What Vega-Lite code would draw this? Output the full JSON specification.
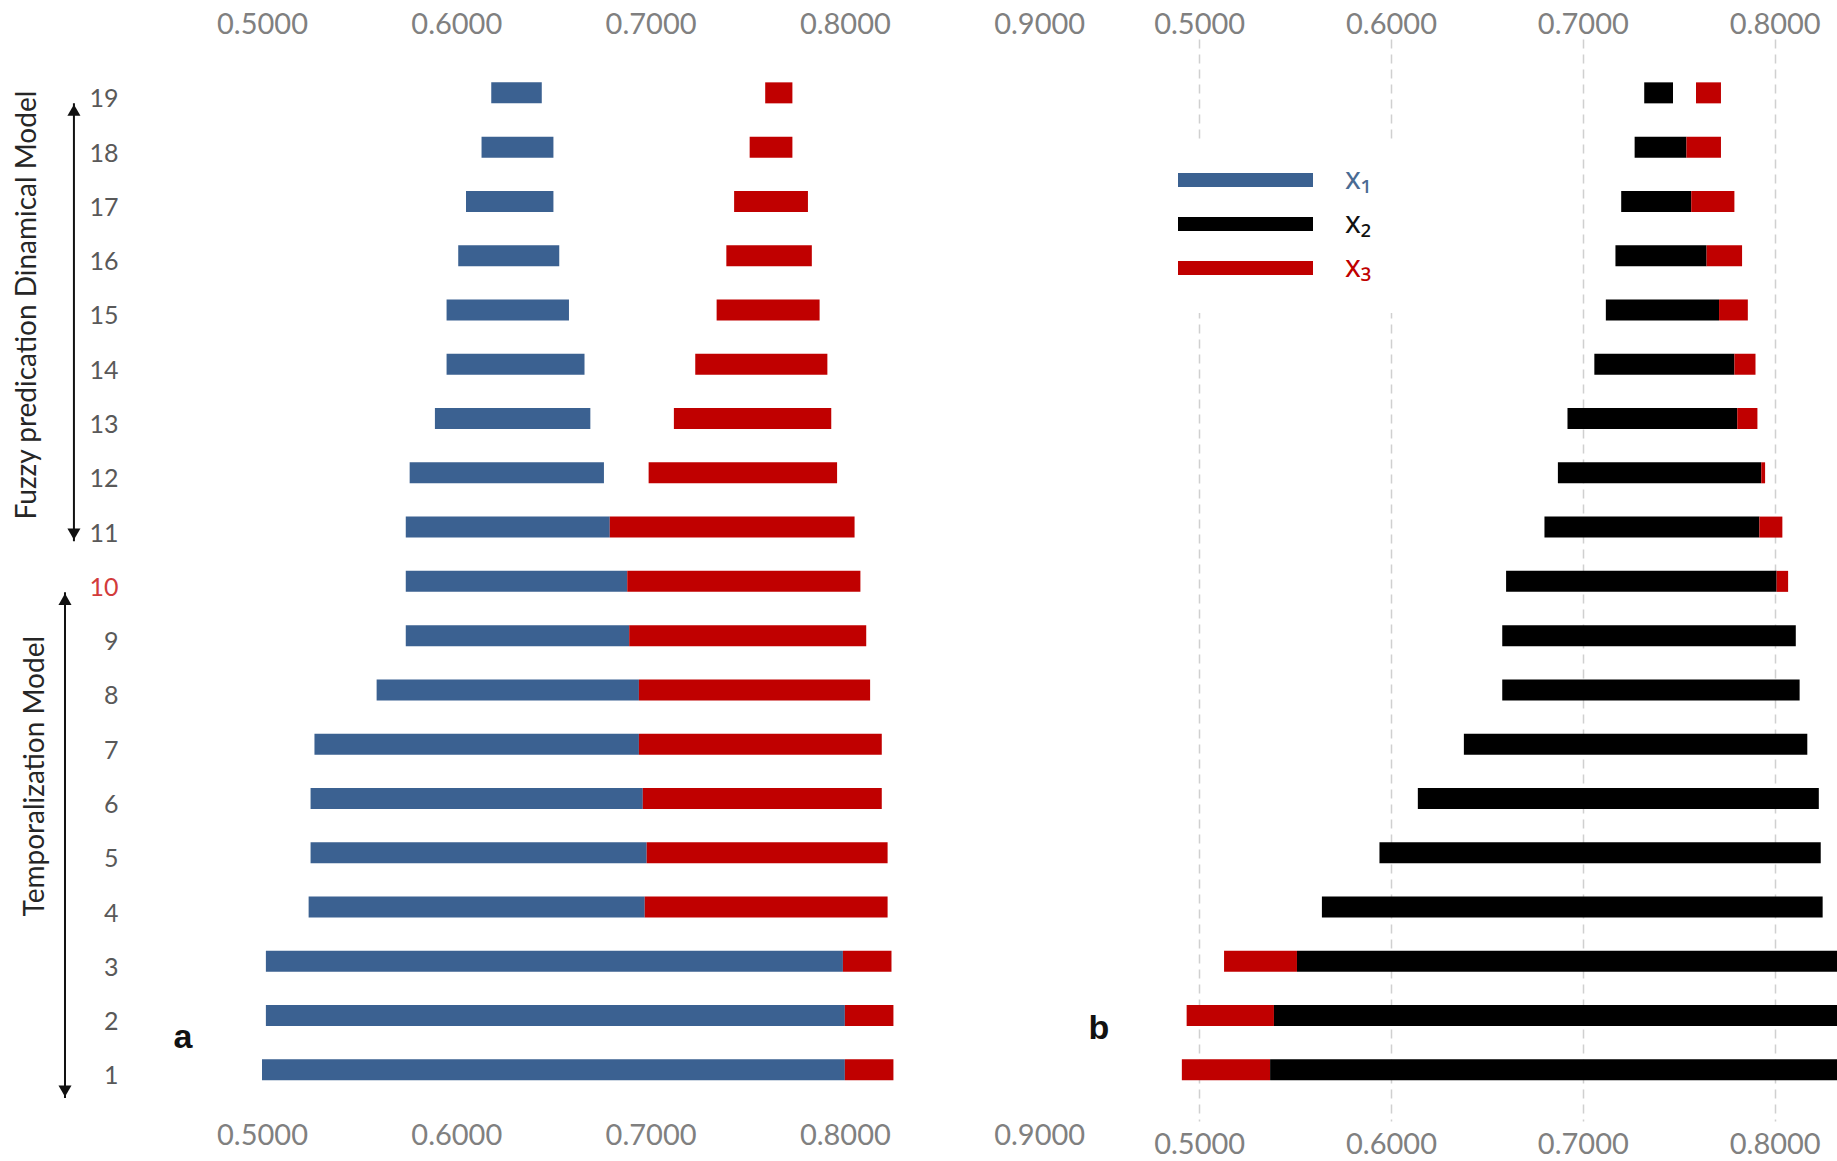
{
  "$schema": "https://vega.github.io/schema/vega-lite/v6.json",
  "background": "white",
  "padding": {"left": 14, "top": 10, "right": 0, "bottom": 0},
  "spacing": 6,
  "bounds": "flush",
  "config": {"view": {"stroke": null}},
  "datasets": {
    "panelA": [
      {"row": 1, "series": "x₁", "start": 0.500, "end": 0.800}, {"row": 1, "series": "x₃", "start": 0.800, "end": 0.825},
      {"row": 2, "series": "x₁", "start": 0.502, "end": 0.800}, {"row": 2, "series": "x₃", "start": 0.800, "end": 0.825},
      {"row": 3, "series": "x₁", "start": 0.502, "end": 0.799}, {"row": 3, "series": "x₃", "start": 0.799, "end": 0.824},
      {"row": 4, "series": "x₁", "start": 0.524, "end": 0.697}, {"row": 4, "series": "x₃", "start": 0.697, "end": 0.822},
      {"row": 5, "series": "x₁", "start": 0.525, "end": 0.698}, {"row": 5, "series": "x₃", "start": 0.698, "end": 0.822},
      {"row": 6, "series": "x₁", "start": 0.525, "end": 0.696}, {"row": 6, "series": "x₃", "start": 0.696, "end": 0.819},
      {"row": 7, "series": "x₁", "start": 0.527, "end": 0.694}, {"row": 7, "series": "x₃", "start": 0.694, "end": 0.819},
      {"row": 8, "series": "x₁", "start": 0.559, "end": 0.694}, {"row": 8, "series": "x₃", "start": 0.694, "end": 0.813},
      {"row": 9, "series": "x₁", "start": 0.574, "end": 0.689}, {"row": 9, "series": "x₃", "start": 0.689, "end": 0.811},
      {"row": 10, "series": "x₁", "start": 0.574, "end": 0.688}, {"row": 10, "series": "x₃", "start": 0.688, "end": 0.808},
      {"row": 11, "series": "x₁", "start": 0.574, "end": 0.679}, {"row": 11, "series": "x₃", "start": 0.679, "end": 0.805},
      {"row": 12, "series": "x₁", "start": 0.576, "end": 0.676}, {"row": 12, "series": "x₃", "start": 0.699, "end": 0.796},
      {"row": 13, "series": "x₁", "start": 0.589, "end": 0.669}, {"row": 13, "series": "x₃", "start": 0.712, "end": 0.793},
      {"row": 14, "series": "x₁", "start": 0.595, "end": 0.666}, {"row": 14, "series": "x₃", "start": 0.723, "end": 0.791},
      {"row": 15, "series": "x₁", "start": 0.595, "end": 0.658}, {"row": 15, "series": "x₃", "start": 0.734, "end": 0.787},
      {"row": 16, "series": "x₁", "start": 0.601, "end": 0.653}, {"row": 16, "series": "x₃", "start": 0.739, "end": 0.783},
      {"row": 17, "series": "x₁", "start": 0.605, "end": 0.650}, {"row": 17, "series": "x₃", "start": 0.743, "end": 0.781},
      {"row": 18, "series": "x₁", "start": 0.613, "end": 0.650}, {"row": 18, "series": "x₃", "start": 0.751, "end": 0.773},
      {"row": 19, "series": "x₁", "start": 0.618, "end": 0.644}, {"row": 19, "series": "x₃", "start": 0.759, "end": 0.773}
    ],
    "panelB": [
      {"row": 1, "series": "x₃", "start": 0.491, "end": 0.537}, {"row": 1, "series": "x₂", "start": 0.537, "end": 0.860},
      {"row": 2, "series": "x₃", "start": 0.4935, "end": 0.539}, {"row": 2, "series": "x₂", "start": 0.539, "end": 0.860},
      {"row": 3, "series": "x₃", "start": 0.513, "end": 0.551}, {"row": 3, "series": "x₂", "start": 0.551, "end": 0.860},
      {"row": 4, "series": "x₂", "start": 0.564, "end": 0.825},
      {"row": 5, "series": "x₂", "start": 0.594, "end": 0.824},
      {"row": 6, "series": "x₂", "start": 0.614, "end": 0.823},
      {"row": 7, "series": "x₂", "start": 0.638, "end": 0.817},
      {"row": 8, "series": "x₂", "start": 0.658, "end": 0.813},
      {"row": 9, "series": "x₂", "start": 0.658, "end": 0.811},
      {"row": 10, "series": "x₂", "start": 0.660, "end": 0.801}, {"row": 10, "series": "x₃", "start": 0.801, "end": 0.807},
      {"row": 11, "series": "x₂", "start": 0.680, "end": 0.792}, {"row": 11, "series": "x₃", "start": 0.792, "end": 0.804},
      {"row": 12, "series": "x₂", "start": 0.687, "end": 0.793}, {"row": 12, "series": "x₃", "start": 0.793, "end": 0.795},
      {"row": 13, "series": "x₂", "start": 0.692, "end": 0.7805}, {"row": 13, "series": "x₃", "start": 0.7805, "end": 0.791},
      {"row": 14, "series": "x₂", "start": 0.706, "end": 0.779}, {"row": 14, "series": "x₃", "start": 0.779, "end": 0.790},
      {"row": 15, "series": "x₂", "start": 0.712, "end": 0.771}, {"row": 15, "series": "x₃", "start": 0.771, "end": 0.786},
      {"row": 16, "series": "x₂", "start": 0.717, "end": 0.7645}, {"row": 16, "series": "x₃", "start": 0.7645, "end": 0.783},
      {"row": 17, "series": "x₂", "start": 0.720, "end": 0.7565}, {"row": 17, "series": "x₃", "start": 0.7565, "end": 0.779},
      {"row": 18, "series": "x₂", "start": 0.727, "end": 0.754}, {"row": 18, "series": "x₃", "start": 0.754, "end": 0.772},
      {"row": 19, "series": "x₂", "start": 0.732, "end": 0.747}, {"row": 19, "series": "x₃", "start": 0.759, "end": 0.772}
    ]
  },
  "hconcat": [
    {
      "width": 952,
      "height": 1082,
      "resolve": {"axis": {"x": "independent", "y": "independent"}},
      "layer": [
        {
          "data": {"name": "panelA"},
          "mark": {"type": "bar", "height": 21, "orient": "horizontal"},
          "encoding": {
            "x": {"field": "start", "type": "quantitative",
              "scale": {"domain": [0.43, 0.92], "nice": false, "zero": false},
              "axis": {"orient": "bottom", "values": [0.5, 0.6, 0.7, 0.8, 0.9], "format": ".4f", "title": null,
                "domain": false, "ticks": false, "grid": false, "labelFont": "Lato", "labelFontSize": 29,
                "labelColor": "#808080", "labelPadding": 0}},
            "x2": {"field": "end"},
            "y": {"field": "row", "type": "quantitative",
              "scale": {"domain": [0.15, 19.9], "nice": false, "zero": false},
              "axis": {"values": [1,2,3,4,5,6,7,8,9,10,11,12,13,14,15,16,17,18,19], "format": "d", "title": null,
                "domain": false, "ticks": false, "grid": false, "labelFont": "Lato", "labelFontSize": 25,
                "labelColor": {"condition": {"test": "datum.value === 10", "value": "#d23b3b"}, "value": "#595959"},
                "labelPadding": 8, "labelOffset": 6}},
            "color": {"field": "series", "type": "nominal",
              "scale": {"domain": ["x₁", "x₂", "x₃"], "range": ["#3b6191", "#000000", "#c00000"]},
              "legend": {"title": null, "orient": "none", "legendX": 1022, "legendY": 104,
                "symbolType": "M-1,-0.1037H1V0.1037H-1Z", "symbolSize": 18225, "clipHeight": 14,
                "rowPadding": 14, "labelFont": "Noto Sans", "labelFontSize": 30, "labelOffset": 32,
                "fillColor": "white", "padding": 30, "symbolStrokeWidth": 0,
                "encode": {"labels": {"update": {"fill": {"signal": "datum.value === 'x₁' ? '#4a6b93' : datum.value === 'x₂' ? '#111111' : '#c00000'"}}}}}}
          }
        },
        {
          "data": {"values": [{}]},
          "mark": {"type": "rule", "strokeWidth": 2, "color": "#111111"},
          "encoding": {
            "x": {"datum": 0.4032, "type": "quantitative", "axis": null},
            "y": {"datum": 18.81, "type": "quantitative", "axis": null},
            "y2": {"datum": 10.74}
          }
        },
        {
          "data": {"values": [{}]},
          "mark": {"type": "rule", "strokeWidth": 2, "color": "#111111"},
          "encoding": {
            "x": {"datum": 0.3986, "type": "quantitative", "axis": null},
            "y": {"datum": 9.80, "type": "quantitative", "axis": null},
            "y2": {"datum": 0.48}
          }
        },
        {
          "data": {"values": [{}]},
          "mark": {"type": "point", "shape": "triangle-up", "filled": true, "size": 170, "color": "#111111", "opacity": 1},
          "encoding": {
            "x": {"datum": 0.4032, "type": "quantitative", "axis": null},
            "y": {"datum": 18.68, "type": "quantitative", "axis": null}
          }
        },
        {
          "data": {"values": [{}]},
          "mark": {"type": "point", "shape": "triangle-down", "filled": true, "size": 170, "color": "#111111", "opacity": 1},
          "encoding": {
            "x": {"datum": 0.4032, "type": "quantitative", "axis": null},
            "y": {"datum": 10.87, "type": "quantitative", "axis": null}
          }
        },
        {
          "data": {"values": [{}]},
          "mark": {"type": "point", "shape": "triangle-up", "filled": true, "size": 170, "color": "#111111", "opacity": 1},
          "encoding": {
            "x": {"datum": 0.3986, "type": "quantitative", "axis": null},
            "y": {"datum": 9.67, "type": "quantitative", "axis": null}
          }
        },
        {
          "data": {"values": [{}]},
          "mark": {"type": "point", "shape": "triangle-down", "filled": true, "size": 170, "color": "#111111", "opacity": 1},
          "encoding": {
            "x": {"datum": 0.3986, "type": "quantitative", "axis": null},
            "y": {"datum": 0.61, "type": "quantitative", "axis": null}
          }
        },
        {
          "data": {"values": [{}]},
          "mark": {"type": "text", "angle": 270, "font": "Lato", "fontSize": 28, "color": "#262626", "align": "center", "baseline": "middle"},
          "encoding": {
            "x": {"datum": 0.3796, "type": "quantitative", "axis": null},
            "y": {"datum": 15.09, "type": "quantitative", "axis": null},
            "text": {"value": "Fuzzy predication Dinamical Model"}
          }
        },
        {
          "data": {"values": [{}]},
          "mark": {"type": "text", "angle": 270, "font": "Lato", "fontSize": 28, "color": "#262626", "align": "center", "baseline": "middle"},
          "encoding": {
            "x": {"datum": 0.3837, "type": "quantitative", "axis": null},
            "y": {"datum": 6.41, "type": "quantitative", "axis": null},
            "text": {"value": "Temporalization Model"}
          }
        },
        {
          "data": {"values": [{}]},
          "mark": {"type": "text", "font": "Liberation Sans", "fontWeight": "bold", "fontSize": 34, "color": "#111111", "align": "center", "baseline": "middle"},
          "encoding": {
            "x": {"datum": 0.4593, "type": "quantitative",
              "axis": {"orient": "top", "values": [0.5, 0.6, 0.7, 0.8, 0.9], "format": ".4f", "title": null,
                "domain": false, "ticks": false, "grid": false, "labelFont": "Lato", "labelFontSize": 29,
                "labelColor": "#808080", "labelPadding": 0}},
            "y": {"datum": 1.584, "type": "quantitative", "axis": null},
            "text": {"value": "a"}
          }
        }
      ]
    },
    {
      "width": 754,
      "height": 1082,
      "resolve": {"axis": {"x": "independent", "y": "independent"}},
      "layer": [
        {
          "data": {"name": "panelB"},
          "mark": {"type": "bar", "height": 21, "orient": "horizontal", "clip": true},
          "encoding": {
            "x": {"field": "start", "type": "quantitative",
              "scale": {"domain": [0.44, 0.833], "nice": false, "zero": false},
              "axis": {"orient": "bottom", "values": [0.5, 0.6, 0.7, 0.8], "format": ".4f", "title": null,
                "domain": false, "ticks": false, "grid": true, "gridDash": [9, 6], "gridColor": "#d0d0d0", "gridWidth": 1.5,
                "labelFont": "Lato", "labelFontSize": 29, "labelColor": "#808080", "labelPadding": 9}},
            "x2": {"field": "end"},
            "y": {"field": "row", "type": "quantitative",
              "scale": {"domain": [0.15, 19.9], "nice": false, "zero": false}, "axis": null},
            "color": {"field": "series", "type": "nominal",
              "scale": {"domain": ["x₁", "x₂", "x₃"], "range": ["#3b6191", "#000000", "#c00000"]},
              "legend": {"title": null, "orient": "none", "legendX": 1022, "legendY": 104,
                "symbolType": "M-1,-0.1037H1V0.1037H-1Z", "symbolSize": 18225, "clipHeight": 14,
                "rowPadding": 14, "labelFont": "Noto Sans", "labelFontSize": 30, "labelOffset": 32,
                "fillColor": "white", "padding": 30, "symbolStrokeWidth": 0,
                "encode": {"labels": {"update": {"fill": {"signal": "datum.value === 'x₁' ? '#4a6b93' : datum.value === 'x₂' ? '#111111' : '#c00000'"}}}}}}
          }
        },
        {
          "data": {"values": [{}]},
          "mark": {"type": "text", "font": "Liberation Sans", "fontWeight": "bold", "fontSize": 34, "color": "#111111", "align": "center", "baseline": "middle"},
          "encoding": {
            "x": {"datum": 0.4477, "type": "quantitative",
              "axis": {"orient": "top", "values": [0.5, 0.6, 0.7, 0.8], "format": ".4f", "title": null,
                "domain": false, "ticks": false, "grid": false, "labelFont": "Lato", "labelFontSize": 29,
                "labelColor": "#808080", "labelPadding": 0}},
            "y": {"datum": 1.75, "type": "quantitative", "axis": null},
            "text": {"value": "b"}
          }
        }
      ]
    }
  ]
}
